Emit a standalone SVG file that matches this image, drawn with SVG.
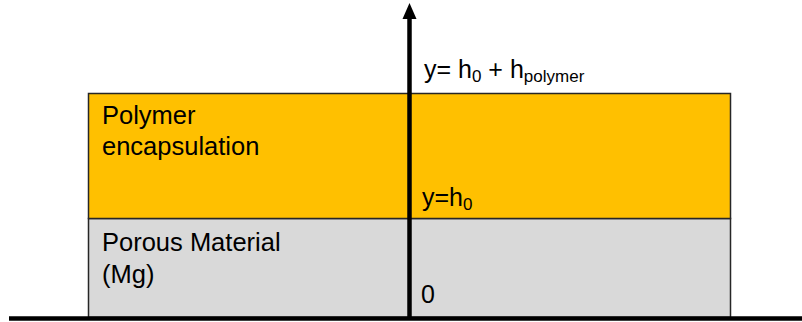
<svg xmlns="http://www.w3.org/2000/svg" width="802" height="322" viewBox="0 0 802 322">
<defs>
<style>
.box{stroke:#262626;stroke-width:1.5}
.t{font-family:"Liberation Sans",Arial,sans-serif;fill:#000}
.big{font-size:25.5px}
.lab{font-size:25px}
.sub{font-size:17px}
</style>
</defs>
<g id="porous">
<rect class="box" x="88.5" y="218.5" width="642" height="99" fill="#D9D9D9"/>
<text class="t big" x="102" y="251">Porous Material</text>
<text class="t big" x="102" y="283">(Mg)</text>
</g>
<g id="polymer">
<rect class="box" x="88.5" y="93.5" width="642" height="125" fill="#FFC000"/>
<text class="t big" x="102" y="124">Polymer</text>
<text class="t big" x="102" y="155">encapsulation</text>
</g>
<g id="connectors">
<line x1="9" y1="318.5" x2="802" y2="318.5" stroke="#000" stroke-width="4.5"/>
<line x1="409.5" y1="318" x2="409.5" y2="17" stroke="#000" stroke-width="4.5"/>
<polygon points="402.5,19 409.5,3 416.5,19" fill="#000"/>
</g>
<g id="labels">
<text class="t lab" x="424" y="78">y= h<tspan class="sub" dy="4">0</tspan><tspan dy="-4"> + h</tspan><tspan class="sub" dy="4">polymer</tspan></text>
<text class="t lab" x="422" y="206">y=h<tspan class="sub" dy="4">0</tspan></text>
<text class="t lab" x="421" y="303">0</text>
</g>
</svg>
